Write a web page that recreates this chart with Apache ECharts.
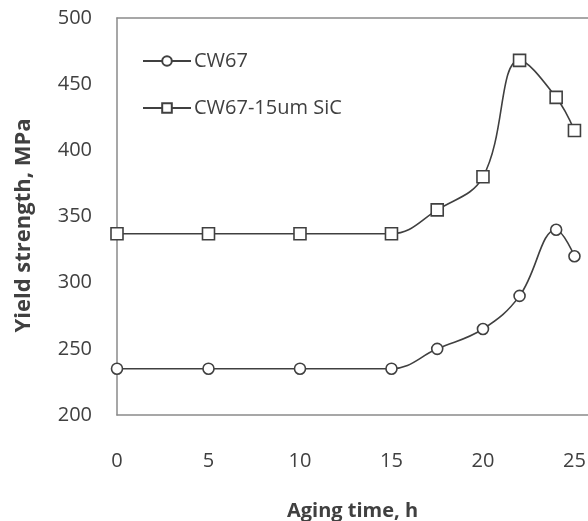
<!DOCTYPE html>
<html>
<head>
<meta charset="utf-8">
<script src="https://cdn.jsdelivr.net/npm/echarts@6/dist/echarts.min.js"></script>
<style>
  html, body { margin: 0; padding: 0; background: #fff; }
  #chart { width: 588px; height: 521px; }
</style>
</head>
<body>
<div id="chart"></div>
<script>
// Aging time (h) and yield strength (MPa) for the two alloys
const agingTime = [0, 5, 10, 15, 17.5, 20, 22, 24, 25];
const cw67 = [235, 235, 235, 235, 250, 265, 290, 340, 320];
const cw67SiC = [337, 337, 337, 337, 355, 380, 468, 440, 415];
const seriesNames = ['CW67', 'CW67-15um SiC'];
const yTicks = [200, 250, 300, 350, 400, 450, 500];
const xTicks = [0, 5, 10, 15, 20, 25];

const ink = '#404040';
const axisGrey = '#8a8a8a';
const font = '"Open Sans", sans-serif';

const pairs = (ys) => agingTime.map((x, i) => [x, ys[i]]);

const chart = echarts.init(document.getElementById('chart'), null, { renderer: 'canvas' });

const lineStyle = { color: ink, width: 1.6 };
const axisLineStyle = { color: axisGrey, width: 1.5 };
// The x range runs a little past 25 h so the frame continues to the right edge
const xMax = 25.74;

chart.setOption({
  animation: false,
  backgroundColor: '#ffffff',
  grid: { left: 117, right: 0, top: 18, bottom: 106, outerBoundsMode: 'none', containLabel: false },
  legend: {
    left: 137, top: 46, orient: 'vertical', itemGap: 27,
    itemWidth: 48, itemHeight: 12,
    textStyle: { fontFamily: font, fontSize: 20, color: ink, padding: [0, 0, 0, -2] },
    data: seriesNames
  },
  xAxis: [
    {
      type: 'value', min: 0, max: xMax, interval: 5,
      name: 'Aging time, h', nameLocation: 'middle', nameGap: 86,
      nameTextStyle: { fontFamily: font, fontSize: 20, fontWeight: 'bold', color: ink },
      axisLine: { show: true, lineStyle: axisLineStyle },
      axisTick: { show: false },
      splitLine: { show: false },
      axisLabel: {
        margin: 36, fontFamily: font, fontSize: 20, color: ink,
        showMaxLabel: false,
        formatter: (v) => xTicks.includes(v) ? String(v) : ''
      }
    },
    {
      // top edge of the frame
      type: 'value', position: 'top', min: 0, max: xMax,
      axisLine: { show: true, lineStyle: axisLineStyle },
      axisTick: { show: false }, axisLabel: { show: false }, splitLine: { show: false }
    }
  ],
  yAxis: {
    type: 'value', min: yTicks[0], max: yTicks[yTicks.length - 1], interval: 50,
    name: 'Yield strength, MPa', nameLocation: 'middle', nameGap: 82,
    nameTextStyle: { fontFamily: font, fontSize: 22, fontWeight: 'bold', color: ink, padding: [0, 18, 0, 0] },
    axisLine: { show: true, lineStyle: axisLineStyle },
    axisTick: { show: false },
    splitLine: { show: false },
    axisLabel: { margin: 25, fontFamily: font, fontSize: 20, color: ink }
  },
  series: [
    {
      name: seriesNames[0], type: 'line', smooth: 0.4,
      data: pairs(cw67),
      symbol: 'circle', symbolSize: 11,
      itemStyle: { color: '#ffffff', borderColor: ink, borderWidth: 1.6 },
      lineStyle: lineStyle
    },
    {
      name: seriesNames[1], type: 'line', smooth: 0.4,
      data: pairs(cw67SiC),
      symbol: 'rect', symbolSize: 12,
      itemStyle: { color: '#ffffff', borderColor: ink, borderWidth: 1.6 },
      lineStyle: lineStyle
    }
  ]
});
</script>
</body>
</html>
